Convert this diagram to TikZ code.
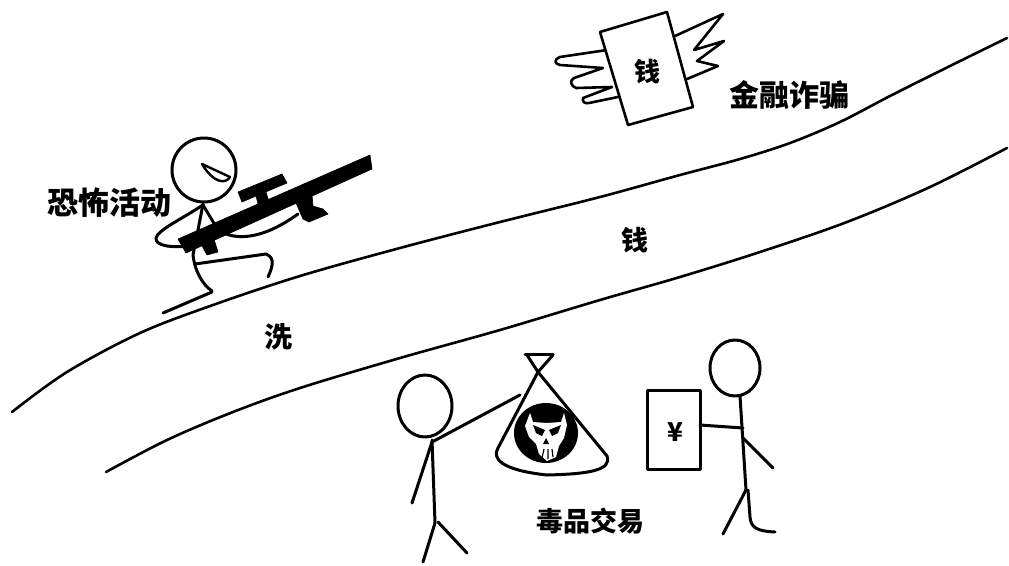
\documentclass[tikz,border=0pt]{standalone}
\usepackage{fontspec}
\newfontfamily\cjk{Noto Sans CJK SC}
\tikzset{
  ink/.style={line width=3pt, line cap=round, line join=round},
  road/.style={line width=2.6pt, line cap=round},
  label/.style={font=\cjk\bfseries, inner sep=0pt, text=black},
  solid black/.style={fill=black, draw=black, line width=0.6pt, line join=round}
}
\begin{document}
\begin{tikzpicture}[x=1pt, y=-1pt]
\useasboundingbox (0,0) rectangle (1009,565);
\fill[white] (0,0) rectangle (1009,565);

% --- the road (two banks) ---
\draw[road] plot[smooth, tension=0.55] coordinates {(12,412) (67,372) (140,333) (213,305) (300,276) (400,248) (500,222) (600,197) (680,175) (740,159) (790,143) (840,122) (890,96) (950,66) (1007,38)};
\draw[road] plot[smooth, tension=0.55] coordinates {(106,472) (167,440) (233,412) (300,388) (400,358) (500,330) (600,300) (680,277) (760,252) (847,222) (930,187) (1007,148)};

% --- sniper ---
\draw[ink] (163,313) -- (212,292);                       % ground
\draw[ink] (204,170) circle [radius=32];                  % head
\draw[line width=2.4pt, line join=round] (202,164) -- (230,177) .. controls (226,184) and (214,184) .. cycle; % eye
\draw[ink] (203,204) -- (198,230) -- (193,255) .. controls (195,272) and (203,285) .. (212,291); % torso + leg
\draw[ink] (195,264) -- (266,254) .. controls (276,258) and (272,268) .. (268,277);         % thigh + knee
\draw[ink] (203,205) .. controls (180,220) and (158,230) .. (156,238) .. controls (155,246) and (172,248) .. (190,246); % back arm
\draw[ink] (203,205) -- (218,230) .. controls (235,241) and (262,240) .. (298,214);         % front arm
% rifle
\fill[solid black] (178,239) -- (370,155) -- (372,169) -- (186,253) -- cycle;               % barrel
\fill[solid black] (200,242) -- (213,236) -- (218,252) -- (207,255) -- cycle;               % rear grip
\fill[solid black] (238,192) -- (282,174) -- (287,183) -- (242,202) -- cycle;               % scope bar
\fill[solid black] (256,196) -- (266,192) -- (272,212) -- (261,216) -- cycle;               % scope post
\fill[solid black] (296,203) -- (312,195) -- (313,206) -- (323,209) -- (328,214) -- (309,222) -- (303,219) -- cycle; % fore grip
\node[label, font=\cjk\bfseries\fontsize{31}{31}\selectfont] (terror) at (109,203) {恐怖活动};

% --- flying banknote ---
\draw[ink, line width=2.6pt] (607,50) -- (560,57) .. controls (553,60) and (555,64) .. (560,65) -- (603,68) -- (574,78) .. controls (569,81) and (571,86) .. (576,88) -- (612,87) -- (583,98) .. controls (582,102) and (585,104) .. (589,103) -- (618,97);
\draw[ink, line width=2.6pt] (675,36) -- (723,14) -- (694,50) -- (724,41) -- (697,61) -- (718,66) -- (687,79);
\draw[ink, fill=white, line width=2.6pt] (600,32) -- (667,12) -- (693,107) -- (628,125) -- cycle;
\node[label, font=\cjk\bfseries\fontsize{26}{26}\selectfont] (note) at (647,72) {钱};
\node[label, font=\cjk\bfseries\fontsize{30}{30}\selectfont] (fraud) at (789,95) {金融诈骗};

% --- road labels ---
\node[label, font=\cjk\bfseries\fontsize{28}{28}\selectfont] (wash) at (278,337) {洗};
\node[label, font=\cjk\bfseries\fontsize{27}{27}\selectfont] (money) at (635,240) {钱};

% --- drug deal: buyer on the left ---
\draw[ink] (425,406) ellipse [x radius=27, y radius=31];
\draw[ink] (432,440) -- (435,523);
\draw[ink] (435,523) -- (423,562);
\draw[ink] (438,522) -- (467,553);
\draw[ink] (432,442) -- (412,503);
\draw[ink] (432,442) -- (520,395);

% bag with skull
\draw[ink] (525,354) -- (553,354);
\draw[ink] (527,355) -- (538,372);
\draw[ink] (553,355) -- (538,372);
\draw[ink, fill=white] (538,372) -- (498,448) .. controls (492,458) and (500,470) .. (547,475)
  .. controls (590,474) and (612,470) .. (607,456) -- cycle;
\fill[black] (546,433) ellipse [x radius=32, y radius=30];
\fill[white] (530,413) -- (533,422) -- (547,423) -- (561,422) -- (564,413) -- (567,425) -- (564,438)
  -- (559,446) -- (556,457) -- (547,461) -- (539,454) -- (536,444) -- (529,437) -- (525,426) -- cycle;
\fill[black] (533,425) -- (545,430) -- (542,436) -- (536,433) -- cycle;
\fill[black] (561,425) -- (549,430) -- (552,436) -- (558,433) -- cycle;
\fill[black] (546,438) -- (549,444) -- (543,444) -- cycle;
\draw[black, line width=1.2pt] (544,449) -- (542,458) (548,449) -- (548,459) (552,449) -- (553,457);

% --- drug deal: seller on the right ---
\draw[ink] (735,368) ellipse [x radius=25, y radius=28];
\draw[ink] (740,396) -- (746,490);
\draw[ink] (743,428) -- (700,425);
\draw[ink] (743,438) -- (773,468);
\draw[ink] (746,490) -- (723,534);
\draw[ink] (748,490) -- (750,517) .. controls (751,528) and (757,531) .. (775,532);
\draw[ink] (647,390) rectangle (700,469);
\node[label, font=\cjk\bfseries\fontsize{26}{26}\selectfont] (yen) at (675,432) {¥};
\node[label, font=\cjk\bfseries\fontsize{27}{27}\selectfont] (drugs) at (590,521) {毒品交易};
\end{tikzpicture}
\end{document}
